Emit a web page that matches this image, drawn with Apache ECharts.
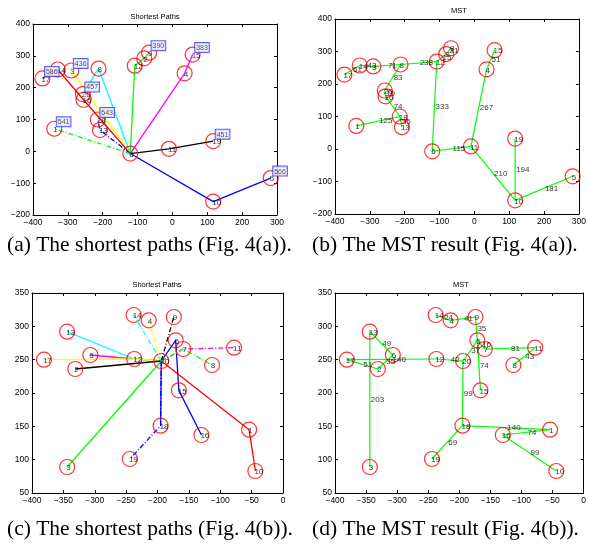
<!DOCTYPE html>
<html>
<head>
<meta charset="utf-8">
<script src="https://cdn.jsdelivr.net/npm/echarts@6/dist/echarts.min.js"></script>
<style>
  html, body { margin: 0; padding: 0; background: #fff; }
  #chart { width: 589px; height: 544px; }
</style>
</head>
<body>
<div id="chart"></div>
<script>
// ---- graph of Fig. 4(a): node names and coordinates ----
var namesA = ['17', '14', '3', '8', '20', '16', '18', '13', '1', '6', '12', '2', '9', '15', '4', '11', '19', '10', '5'];
var xA = [-373, -329, -290, -212, -257, -255, -214, -208, -339, -121, -108, -81, -67, 58, 35, -10, 117, 117, 282];
var yA = [229, 257, 254, 260, 180, 162, 100, 67, 71, -7, 269, 292, 310, 304, 245, 8, 32, -158, -84];

// shortest paths from node 6
var pathsA = [
  ['6', '10', '5'],
  ['6', '11', '19'],
  ['6', '4', '15'],
  ['6', '12', '2', '9'],
  ['6', '8', '20'],
  ['6', '3'],
  ['6', '16', '14', '17'],
  ['6', '13', '18'],
  ['6', '1']
];
var pathColorsA = ['#0000ff', '#000000', '#ff00ff', '#00ff00', '#00ffff', '#ffff00', '#ff0000', '#0000ff', '#00ff00'];
var pathDashA = ['s', 's', 's', 's', 's', 's', 's', 'dd', 'dd'];

// path lengths shown in boxes
var boxNodesA = ['17', '3', '20', '18', '1', '9', '15', '19', '5'];
var boxValsA = [586, 436, 457, 543, 541, 390, 383, 451, 566];

// MST
var mstEdgesA = [['17', '14'], ['14', '3'], ['3', '8'], ['8', '20'], ['20', '16'], ['16', '18'], ['18', '13'],
  ['1', '18'], ['8', '12'], ['12', '6'], ['12', '2'], ['2', '9'], ['6', '11'], ['11', '4'], ['4', '15'],
  ['11', '10'], ['19', '10'], ['10', '5']];
var mstWeightsA = [51, 43, 71, 83, 19, 74, 35, 125, 238, 333, 15, 21, 115, 267, 51, 210, 194, 181];

// ---- graph of Fig. 4(b) ----
var namesB = ['17', '13', '2', '6', '3', '12', '14', '4', '9', '5', '7', '20', '11', '8', '15', '18', '19', '16', '1', '10'];
var xB = [-381, -344, -331, -307, -344, -237, -238, -214, -174, -171, -159, -194, -78, -113, -166, -195, -244, -130, -54, -44];
var yB = [250, 292, 236, 257, 89, 251, 317, 309, 314, 279, 266, 248, 268, 242, 204, 151, 101, 137, 145, 83];

var pathsB = [
  ['20', '12', '6'],
  ['20', '12', '13'],
  ['20', '12', '17'],
  ['20', '2'],
  ['20', '3'],
  ['20', '4'],
  ['20', '14'],
  ['20', '9'],
  ['20', '5', '15', '16'],
  ['20', '18'],
  ['20', '18', '19'],
  ['20', '7', '11'],
  ['20', '7', '8'],
  ['20', '1', '10']
];
var pathColorsB = ['#ff00ff', '#00ffff', '#ffff00', '#000000', '#00ff00', '#ffff00', '#00ffff', '#000000',
  '#0000ff', '#0000ff', '#0000ff', '#ff00ff', '#00ff00', '#ff0000'];
var pathDashB = ['s', 's', 's', 's', 's', 'dd', 'dd', 'dd', 's', 's', 'dd', 'dd', 'dd', 's'];

var mstEdgesB = [['17', '2'], ['2', '6'], ['6', '13'], ['13', '3'], ['17', '12'], ['12', '20'], ['14', '4'],
  ['4', '9'], ['9', '5'], ['5', '7'], ['20', '5'], ['5', '15'], ['7', '11'], ['11', '8'], ['20', '18'],
  ['18', '19'], ['18', '1'], ['1', '16'], ['16', '10']];
var mstWeightsB = [51, 35, 49, 203, 140, 42, 24, 41, 35, 16, 37, 74, 81, 43, 99, 69, 140, 74, 99];

var FONT = 'Liberation Sans';

function pos(names, xs, ys, n) {
  var i = names.indexOf(n);
  return [xs[i], ys[i]];
}

var grids = [
  { left: 33, top: 24, width: 244, height: 191 },
  { left: 335, top: 19, width: 248, height: 195 },
  { left: 32, top: 293, width: 251, height: 200 },
  { left: 335, top: 293, width: 252, height: 200 }
];
var ranges = [
  [-400, 300, 100, -200, 400, 100],
  [-400, 300, 100, -200, 400, 100],
  [-400, 0, 50, 50, 350, 50],
  [-400, 0, 50, 50, 350, 50]
];

// matlab style minus sign
function tickFmt(v) {
  return v < 0 ? '\u2212' + Math.abs(v) : String(v);
}

var xAxes = [], yAxes = [];
ranges.forEach(function (r, gi) {
  ['bottom', 'top'].forEach(function (p) {
    xAxes.push({
      gridIndex: gi, type: 'value', position: p, min: r[0], max: r[1], interval: r[2],
      axisLine: { show: true, onZero: false, lineStyle: { color: '#000', width: 1 } },
      axisTick: { show: true, inside: true, length: 3, lineStyle: { color: '#000' } },
      axisLabel: { show: p === 'bottom', fontSize: 8.5, color: '#000', fontFamily: FONT, margin: 3, formatter: tickFmt },
      splitLine: { show: false }
    });
  });
  ['left', 'right'].forEach(function (p) {
    yAxes.push({
      gridIndex: gi, type: 'value', position: p, min: r[3], max: r[4], interval: r[5],
      axisLine: { show: true, onZero: false, lineStyle: { color: '#000', width: 1 } },
      axisTick: { show: true, inside: true, length: 3, lineStyle: { color: '#000' } },
      axisLabel: { show: p === 'left', fontSize: 8.5, color: '#000', fontFamily: FONT, margin: 3, formatter: tickFmt },
      splitLine: { show: false }
    });
  });
});

var series = [];

function dashOf(d) {
  if (d === 'dd') return [5, 2, 1, 2];
  return 'solid';
}

function addPaths(gi, names, xs, ys, paths, colors, dashes) {
  paths.forEach(function (p, k) {
    series.push({
      type: 'line', xAxisIndex: 2 * gi, yAxisIndex: 2 * gi, symbol: 'none', silent: true,
      data: p.map(function (n) { return pos(names, xs, ys, n); }),
      lineStyle: { color: colors[k], width: 1.3, type: dashOf(dashes[k]) },
      z: 2
    });
  });
}

function addMst(gi, names, xs, ys, edges, weights) {
  var mids = [];
  edges.forEach(function (e, k) {
    var a = pos(names, xs, ys, e[0]), b = pos(names, xs, ys, e[1]);
    series.push({
      type: 'line', xAxisIndex: 2 * gi, yAxisIndex: 2 * gi, symbol: 'none', silent: true,
      data: [a, b],
      lineStyle: { color: '#00ff00', width: 1.2 },
      z: 2
    });
    mids.push([(a[0] + b[0]) / 2, (a[1] + b[1]) / 2, String(weights[k])]);
  });
  series.push({
    type: 'scatter', xAxisIndex: 2 * gi, yAxisIndex: 2 * gi, data: mids, symbolSize: 1,
    itemStyle: { color: 'rgba(0,0,0,0)' }, silent: true, z: 6,
    label: {
      show: true, position: 'inside', align: 'left', verticalAlign: 'middle', offset: [1, 0],
      formatter: function (p) { return p.data[2]; },
      fontSize: 8, color: '#000', fontFamily: FONT
    }
  });
}

function addNodes(gi, names, xs, ys) {
  series.push({
    type: 'scatter', xAxisIndex: 2 * gi, yAxisIndex: 2 * gi, silent: true,
    data: names.map(function (n, i) { return [xs[i], ys[i], n]; }),
    symbol: 'circle', symbolSize: 15,
    itemStyle: { color: 'rgba(0,0,0,0)', borderColor: '#ff0000', borderWidth: 1.2 },
    label: {
      show: true, position: 'inside', align: 'left', verticalAlign: 'middle', offset: [-1, 1],
      formatter: function (p) { return p.data[2]; },
      fontSize: 8, color: '#000', fontFamily: FONT
    },
    z: 5
  });
}

function addBoxes(gi, names, xs, ys, nodes, vals) {
  series.push({
    type: 'scatter', xAxisIndex: 2 * gi, yAxisIndex: 2 * gi, silent: true,
    data: nodes.map(function (n, k) { var q = pos(names, xs, ys, n); return [q[0], q[1], String(vals[k])]; }),
    symbolSize: 1, itemStyle: { color: 'rgba(0,0,0,0)' },
    label: {
      show: true, position: [3, -11],
      formatter: function (p) { return p.data[2]; },
      fontSize: 7, lineHeight: 8, color: '#222', fontFamily: FONT,
      backgroundColor: '#eef0ff', borderColor: '#3333ff', borderWidth: 1, padding: [1, 1, 0, 1]
    },
    z: 7
  });
}

addPaths(0, namesA, xA, yA, pathsA, pathColorsA, pathDashA);
addNodes(0, namesA, xA, yA);
addBoxes(0, namesA, xA, yA, boxNodesA, boxValsA);

addMst(1, namesA, xA, yA, mstEdgesA, mstWeightsA);
addNodes(1, namesA, xA, yA);

addPaths(2, namesB, xB, yB, pathsB, pathColorsB, pathDashB);
addNodes(2, namesB, xB, yB);

addMst(3, namesB, xB, yB, mstEdgesB, mstWeightsB);
addNodes(3, namesB, xB, yB);

function txt(s, x, y, font, align) {
  return { type: 'text', x: x, y: y, style: { text: s, font: font, fill: '#000', textAlign: align || 'center', textVerticalAlign: 'middle' } };
}
var capFont = '21.5px "Liberation Serif"';
var ttlFont = '7.5px "Liberation Sans"';

var chart = echarts.init(document.getElementById('chart'), null, { renderer: 'canvas' });
chart.setOption({
  animation: false,
  backgroundColor: '#fff',
  grid: grids,
  xAxis: xAxes,
  yAxis: yAxes,
  series: series,
  graphic: [
    txt('Shortest Paths', 155, 17, ttlFont),
    txt('MST', 459, 11, ttlFont),
    txt('Shortest Paths', 157, 285, ttlFont),
    txt('MST', 461, 285, ttlFont),
    txt('(a) The shortest paths (Fig. 4(a)).', 7, 245, capFont, 'left'),
    txt('(b) The MST result (Fig. 4(a)).', 312, 245, capFont, 'left'),
    txt('(c) The shortest paths (Fig. 4(b)).', 7, 529, capFont, 'left'),
    txt('(d) The MST result (Fig. 4(b)).', 312, 529, capFont, 'left')
  ]
});
</script>
</body>
</html>
